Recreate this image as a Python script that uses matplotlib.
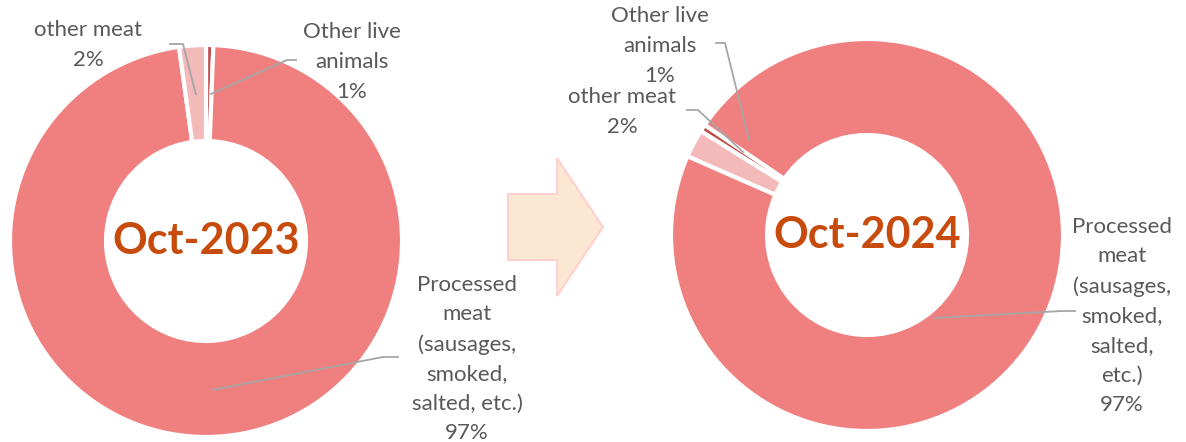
import numpy as np
import matplotlib
matplotlib.use("Agg")
import matplotlib.pyplot as plt
from matplotlib.patches import Polygon

plt.rcParams['font.family'] = ['Lato', 'DejaVu Sans']

W, H = 1186, 442

# slice order (clockwise): live animals, processed meat, other meat
categories = ['Other live\nanimals', 'Processed\nmeat\n(sausages,\nsmoked,\nsalted, etc.)', 'other meat']
categories_24 = ['Other live\nanimals', 'Processed\nmeat\n(sausages,\nsmoked,\nsalted,\netc.)', 'other meat']
share_2023 = [0.6, 97.2, 2.2]
share_2024 = [0.6, 97.1, 2.3]
pct_2023 = ['1%', '97%', '2%']
pct_2024 = ['1%', '97%', '2%']
titles = ['Oct-2023', 'Oct-2024']

colors = ['#C0504D', '#F08080', '#F4B9B9']
text_grey = '#595959'
line_grey = '#A6A6A6'
title_col = '#C64B0C'

fig = plt.figure(figsize=(W / 100, H / 100), dpi=100)
# overlay for labels, leader lines and the arrow, drawn above the pies
over = fig.add_axes([0, 0, 1, 1], zorder=10)
over.set_xlim(0, W)
over.set_ylim(H, 0)
over.patch.set_alpha(0)
over.axis('off')


def donut(cx, cy, R, values, start, title):
    ax = fig.add_axes([(cx - R) / W, 1 - (cy + R) / H, 2 * R / W, 2 * R / H], zorder=1)
    wedges, _ = ax.pie(values, colors=colors, startangle=start, counterclock=False,
                       radius=1, wedgeprops=dict(width=0.49, edgecolor='white', linewidth=3))
    ax.set_xlim(-1, 1)
    ax.set_ylim(-1, 1)
    ax.axis('off')
    over.text(cx, cy, title, ha='center', va='center', fontsize=31,
              fontweight='bold', color=title_col, zorder=5)
    # mid points of each ring segment, in pixels
    mids = []
    for w in wedges:
        a = np.deg2rad((w.theta1 + w.theta2) / 2)
        mids.append((cx + R * 0.75 * np.cos(a), cy - R * 0.75 * np.sin(a)))
    return wedges, mids


def label(text, x, y, elbow, end):
    over.text(x, y, text, ha='center', va='center', fontsize=16, color=text_grey,
              linespacing=1.6, zorder=6)
    xs = [elbow[0][0], elbow[1][0], end[0]]
    ys = [elbow[0][1], elbow[1][1], end[1]]
    over.plot(xs, ys, color=line_grey, lw=1.3, zorder=4)


# left donut
_, m1 = donut(206, 241, 196, share_2023, 90, titles[0])
label(categories[2] + '\n' + pct_2023[2], 88, 45, [(170, 44), (183, 44)], m1[2])
label(categories[0] + '\n' + pct_2023[0], 352, 62, [(296, 60), (287, 60)],
      (m1[0][0] + 2, m1[0][1]))
label(categories[1] + '\n' + pct_2023[1], 467, 359, [(398, 357), (383, 357)],
      (212, 390))

# right donut
_, m2 = donut(867, 235, 196, share_2024, 148, titles[1])
label(categories_24[0] + '\n' + pct_2024[0], 660, 46, [(716, 43), (725, 43)], (749, 140))
label(categories_24[2] + '\n' + pct_2024[2], 622, 112, [(687, 110), (698, 110)], (743, 152))
label(categories_24[1] + '\n' + pct_2024[1], 1122, 316, [(1075, 311), (1062, 311)],
      (935, 318))

# block arrow between the two charts
arrow = Polygon([(508, 194), (557, 194), (557, 158), (603, 227), (557, 296),
                 (557, 260), (508, 260)], closed=True, facecolor='#FCE7D3',
                edgecolor='#FFD0D0', lw=1.5, zorder=3)
over.add_patch(arrow)

fig.savefig('out.png', dpi=100)
